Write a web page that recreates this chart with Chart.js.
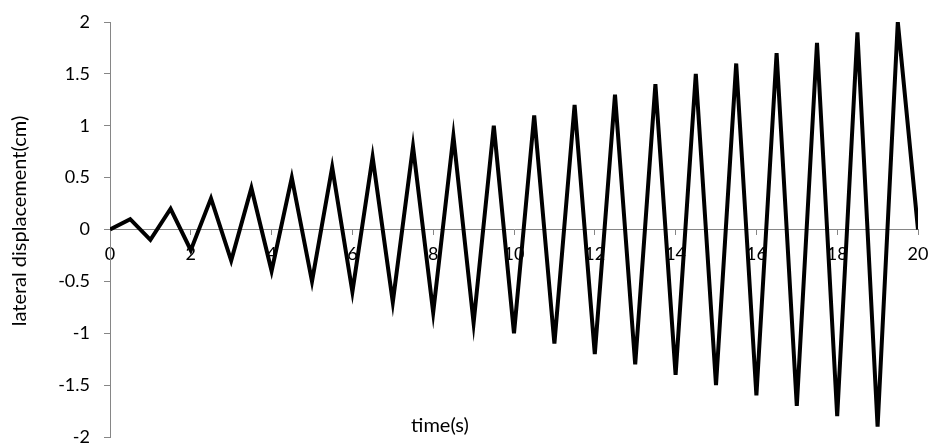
<!DOCTYPE html>
<html>
<head>
<meta charset="utf-8">
<script src="https://cdn.jsdelivr.net/npm/chart.js@4.4.1/dist/chart.umd.min.js"></script>
<style>
  html, body { margin: 0; padding: 0; background: #fff; }
  #wrap { width: 930px; height: 443px; position: relative; }
</style>
</head>
<body>
<div id="wrap"><canvas id="myChart"></canvas></div>
<script>
// time (s) and lateral displacement (cm)
const timeValues = [
  0, 0.5, 1, 1.5, 2, 2.5, 3, 3.5, 4, 4.5, 5, 5.5, 6, 6.5, 7, 7.5, 8, 8.5, 9, 9.5,
  10, 10.5, 11, 11.5, 12, 12.5, 13, 13.5, 14, 14.5, 15, 15.5, 16, 16.5, 17, 17.5,
  18, 18.5, 19, 19.5, 20,
];
const dispValues = [
  0, 0.1, -0.1, 0.2, -0.2, 0.3, -0.3, 0.4, -0.4, 0.5, -0.5, 0.6, -0.6, 0.7, -0.7,
  0.8, -0.8, 0.9, -0.9, 1.0, -1.0, 1.1, -1.1, 1.2, -1.2, 1.3, -1.3, 1.4, -1.4,
  1.5, -1.5, 1.6, -1.6, 1.7, -1.7, 1.8, -1.8, 1.9, -1.9, 2.0, 0,
];
const xTicks = { min: 0, max: 20, step: 2 };
const yTicks = { min: -2, max: 2, step: 0.5 };
const xTitle = "time(s)";
const yTitle = "lateral displacement(cm)";

const fontFamily = "Lato, 'Open Sans', sans-serif";
const axisGray = "#868686";

// both axis titles drawn by hand: x one sits low and left of centre, like the original
const axisTitlesPlugin = {
  id: "axisTitles",
  afterDraw: (chart) => {
    const ctx = chart.ctx;
    ctx.save();
    ctx.font = "20px " + fontFamily;
    ctx.fillStyle = "#000";
    ctx.textAlign = "center";
    ctx.textBaseline = "middle";
    ctx.fillText(xTitle, 440, 426);
    ctx.translate(20, 221);
    ctx.rotate(-Math.PI / 2);
    ctx.fillText(yTitle, 0, 0);
    ctx.restore();
  },
};

const points = timeValues.map((t, i) => ({ x: t, y: dispValues[i] }));

new Chart(document.getElementById("myChart"), {
  type: "line",
  data: {
    datasets: [
      {
        data: points,
        borderColor: "#000",
        borderWidth: 4,
        pointRadius: 0,
        tension: 0,
        fill: false,
        borderJoinStyle: "miter",
      },
    ],
  },
  options: {
    responsive: true,
    maintainAspectRatio: false,
    animation: false,
    layout: {
      autoPadding: false,
      padding: { top: 22, right: 12, bottom: 6, left: 0 },
    },
    plugins: {
      legend: { display: false },
      tooltip: { enabled: false },
    },
    scales: {
      x: {
        type: "linear",
        position: { y: 0 },
        min: xTicks.min,
        max: xTicks.max,
        afterFit: (scale) => {
          // axis crosses at zero, so it should not eat layout space
          scale.height = 0;
          scale.paddingLeft = 0;
          scale.paddingRight = 0;
        },
        border: { color: axisGray, width: 1 },
        grid: {
          drawOnChartArea: false,
          drawTicks: true,
          tickLength: 5,
          color: axisGray,
        },
        ticks: {
          stepSize: xTicks.step,
          color: "#000",
          padding: 9,
          maxRotation: 0,
          font: { family: fontFamily, size: 18 },
        },
      },
      y: {
        type: "linear",
        min: yTicks.min,
        max: yTicks.max,
        afterFit: (scale) => {
          scale.width = 110;
          scale.paddingTop = 0;
          scale.paddingBottom = 0;
        },
        border: { color: axisGray, width: 1 },
        grid: {
          drawOnChartArea: false,
          drawTicks: true,
          tickLength: 6,
          color: axisGray,
        },
        ticks: {
          stepSize: yTicks.step,
          color: "#000",
          padding: 14,
          font: { family: fontFamily, size: 18 },
          callback: (value) => String(value),
        },
      },
    },
  },
  plugins: [axisTitlesPlugin],
});
</script>
</body>
</html>
